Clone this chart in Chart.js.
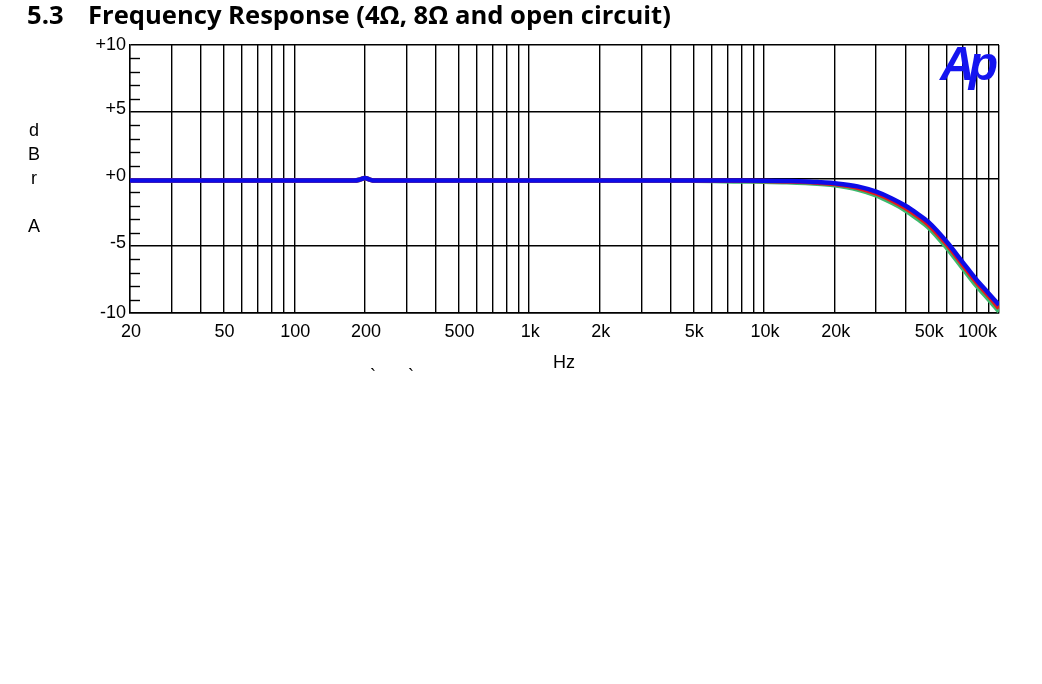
<!DOCTYPE html>
<html>
<head>
<meta charset="utf-8">
<script src="https://cdn.jsdelivr.net/npm/chart.js@4/dist/chart.umd.min.js"></script>
<style>
  html, body { margin: 0; padding: 0; background: #fff; }
  #wrap { position: relative; width: 1042px; height: 684px; overflow: hidden; }
  #c { position: absolute; left: 0; top: 0; }
  .t { position: absolute; white-space: nowrap; }
  #title { left: 27px; top: -3px; font: bold 25.6px "Open Sans", sans-serif; color: #000; }
  #title .num { display: inline-block; width: 61px; }
  #ylab { left: 26px; top: 0; width: 16px; font: 18px "Liberation Sans", Arial, sans-serif; color: #000; }
  #ylab span { position: absolute; left: 0; width: 16px; text-align: center; }
  #hz { left: 553px; top: 352px; font: 18px "Liberation Sans", Arial, sans-serif; }
  .bt { font: 18px "Liberation Sans", Arial, sans-serif; top: 366px; }
  #ap { left: 940px; top: 36px; font: bold italic 48px "Liberation Sans", Arial, sans-serif; color: #1414f0; letter-spacing: -6px; }
</style>
</head>
<body>
<div id="wrap">
  <canvas id="c" width="1042" height="684"></canvas>
  <div class="t" id="title"><span class="num">5.3</span>Frequency Response (4Ω, 8Ω and open circuit)</div>
  <div class="t" id="ylab">
    <span style="top:120px">d</span>
    <span style="top:144px">B</span>
    <span style="top:168px">r</span>
    <span style="top:216px">A</span>
  </div>
  <div class="t" id="hz">Hz</div>
  <div class="t bt" style="left:370px">`</div>
  <div class="t bt" style="left:408px">`</div>
  <div class="t" id="ap">Ap</div>
</div>
<script>
// ---- data ----
const freqs = [20, 100, 150, 180, 190, 200, 210, 220, 250, 500, 1000, 2000, 5000, 8000, 10000, 12500, 15000, 17500, 20000, 25000, 30000, 35000, 40000, 45000, 50000, 60000, 70000, 80000, 90000, 100000];
const openCircuit = [-0.12, -0.12, -0.12, -0.12, -0.05, 0.08, -0.05, -0.12, -0.12, -0.12, -0.12, -0.12, -0.12, -0.12, -0.13, -0.15, -0.18, -0.25, -0.32, -0.55, -0.95, -1.45, -2.0, -2.6, -3.2, -4.7, -6.2, -7.5, -8.5, -9.4];
const load8 = [-0.12, -0.12, -0.12, -0.12, -0.05, 0.08, -0.05, -0.12, -0.12, -0.12, -0.12, -0.12, -0.12, -0.13, -0.15, -0.18, -0.22, -0.3, -0.38, -0.65, -1.08, -1.6, -2.17, -2.78, -3.4, -4.9, -6.4, -7.7, -8.7, -9.65];
const load4 = [-0.12, -0.12, -0.12, -0.12, -0.05, 0.08, -0.05, -0.12, -0.12, -0.12, -0.12, -0.12, -0.13, -0.18, -0.2, -0.24, -0.3, -0.38, -0.47, -0.78, -1.22, -1.78, -2.35, -2.98, -3.6, -5.15, -6.65, -7.95, -8.95, -9.9];

const xGridValues = [20,30,40,50,60,70,80,90,100,200,300,400,500,600,700,800,900,1000,2000,3000,4000,5000,6000,7000,8000,9000,10000,20000,30000,40000,50000,60000,70000,80000,90000,100000];
const xTickValues = [20, 50, 100, 200, 500, 1000, 2000, 5000, 10000, 20000, 50000, 100000];
const xTickLabels = ['20', '50', '100', '200', '500', '1k', '2k', '5k', '10k', '20k', '50k', '100k'];
const yMajorValues = [-10, -5, 0, 5, 10];
const yTickLabels = ['-10', '-5', '+0', '+5', '+10'];
const yMinorValues = [-9,-8,-7,-6,-4,-3,-2,-1,1,2,3,4,6,7,8,9];

const toPts = arr => freqs.map((f, i) => ({ x: f, y: arr[i] }));

const labelsPlugin = {
  id: 'apLabels',
  afterDraw(chart) {
    const ctx = chart.ctx;
    const xs = chart.scales.x, ys = chart.scales.y;
    const area = chart.chartArea;
    ctx.save();
    // minor y ticks inside plot at left
    ctx.strokeStyle = '#000';
    ctx.lineWidth = 1.4;
    yMinorValues.forEach(v => {
      const py = Math.round(ys.getPixelForValue(v)) + 0.5;
      ctx.beginPath();
      ctx.moveTo(area.left, py);
      ctx.lineTo(area.left + 10, py);
      ctx.stroke();
    });
    ctx.fillStyle = '#000';
    ctx.font = '18px "Liberation Sans", Arial, sans-serif';
    // y labels
    ctx.textAlign = 'right';
    ctx.textBaseline = 'middle';
    yMajorValues.forEach((v, i) => {
      const off = (v === 10 || v === -10) ? 0 : -3;
      ctx.fillText(yTickLabels[i], area.left - 4, ys.getPixelForValue(v) + off);
    });
    // x labels
    ctx.textBaseline = 'middle';
    xTickValues.forEach((v, i) => {
      const px = xs.getPixelForValue(v);
      if (i === xTickValues.length - 1) {
        ctx.textAlign = 'right';
        ctx.fillText(xTickLabels[i], px - 2, area.bottom + 19);
      } else {
        ctx.textAlign = 'center';
        ctx.fillText(xTickLabels[i], px + 1, area.bottom + 19);
      }
    });
    ctx.restore();
  }
};

new Chart(document.getElementById('c'), {
  type: 'line',
  data: {
    datasets: [
      { label: '4 Ω', data: toPts(load4), borderColor: '#3cba6e', borderWidth: 4.5, pointRadius: 0, cubicInterpolationMode: 'monotone', order: 3 },
      { label: '8 Ω', data: toPts(load8), borderColor: '#e41a1c', borderWidth: 4.5, pointRadius: 0, cubicInterpolationMode: 'monotone', order: 2 },
      { label: 'open circuit', data: toPts(openCircuit), borderColor: '#0c0ce8', borderWidth: 4.5, pointRadius: 0, cubicInterpolationMode: 'monotone', order: 1 }
    ]
  },
  options: {
    responsive: false,
    animation: false,
    devicePixelRatio: 1,
    layout: { padding: { left: 130, top: 45, right: 43, bottom: 371 } },
    plugins: { legend: { display: false }, tooltip: { enabled: false }, title: { display: false } },
    scales: {
      x: {
        type: 'logarithmic', min: 20, max: 100000,
        afterBuildTicks: s => { s.ticks = xGridValues.map(v => ({ value: v })); },
        ticks: { display: false },
        grid: { color: '#000', lineWidth: 1.4, drawTicks: false },
        border: { display: true, color: '#000', width: 1.4 }
      },
      y: {
        type: 'linear', min: -10, max: 10,
        afterBuildTicks: s => { s.ticks = yMajorValues.map(v => ({ value: v })); },
        ticks: { display: false },
        grid: { color: '#000', lineWidth: 1.4, drawTicks: false },
        border: { display: true, color: '#000', width: 1.4 }
      }
    }
  },
  plugins: [labelsPlugin]
});
</script>
</body>
</html>
